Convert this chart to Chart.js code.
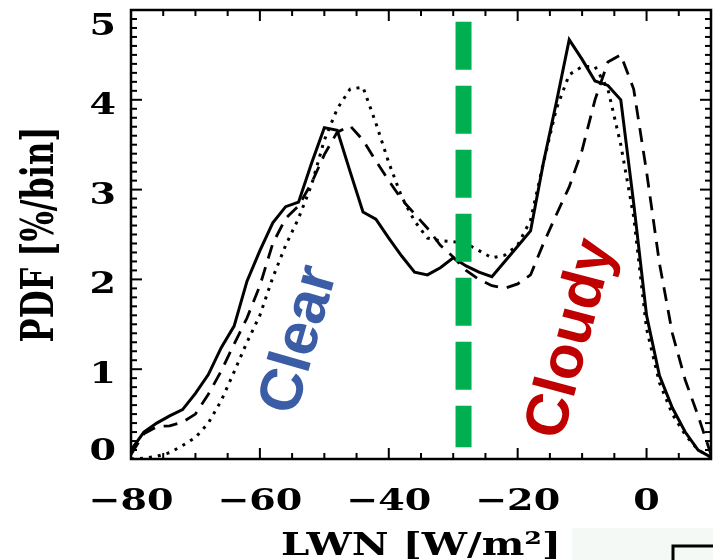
<!DOCTYPE html>
<html>
<head>
<meta charset="utf-8">
<script src="https://cdn.jsdelivr.net/npm/chart.js@4.4.1/dist/chart.umd.min.js"></script>
<style>
    html, body { margin: 0; padding: 0; background: #fff; }
    #wrap { width: 713px; height: 560px; }
</style>
</head>
<body>
<div id="wrap"><canvas id="pdfChart" width="713" height="560"></canvas></div>
<script>
// LWN bins [W/m2] and PDF values [%/bin] for the three curves
const lwnBins = [-80, -78, -76, -74, -72, -70, -68, -66, -64, -62, -60, -58, -56, -54, -52, -50,
    -48, -46, -44, -42, -40, -38, -36, -34, -32, -30, -28, -26, -24, -22, -20, -18, -16, -14,
    -12, -10, -8, -6, -4, -2, 0, 2, 4, 6, 8, 10];
const pdfSolid = [0.10, 0.30, 0.40, 0.48, 0.55, 0.73, 0.94, 1.24, 1.48, 1.98, 2.32, 2.63, 2.81, 2.86, 3.29, 3.69,
    3.66, 3.20, 2.75, 2.67, 2.46, 2.26, 2.08, 2.05, 2.13, 2.24, 2.15, 2.08, 2.03, 2.20, 2.37, 2.54, 3.30, 3.97,
    4.67, 4.45, 4.21, 4.16, 4.00, 2.85, 1.60, 0.93, 0.57, 0.30, 0.10, 0.02];
const pdfDotted = [0.00, 0.01, 0.03, 0.07, 0.15, 0.24, 0.40, 0.65, 0.97, 1.30, 1.60, 2.02, 2.38, 2.68, 3.05, 3.55,
    3.90, 4.12, 4.14, 3.74, 3.30, 2.92, 2.65, 2.46, 2.43, 2.42, 2.40, 2.32, 2.24, 2.27, 2.38, 2.66, 3.30, 3.90,
    4.28, 4.37, 4.37, 4.12, 3.50, 2.70, 1.45, 0.85, 0.50, 0.27, 0.10, 0.02];
const pdfDashed = [0.05, 0.28, 0.36, 0.37, 0.41, 0.50, 0.72, 0.98, 1.28, 1.57, 1.93, 2.40, 2.68, 2.82, 3.07, 3.39,
    3.64, 3.71, 3.55, 3.32, 3.10, 2.89, 2.73, 2.57, 2.38, 2.25, 2.10, 2.00, 1.93, 1.90, 1.95, 2.05, 2.40, 2.72,
    3.03, 3.44, 4.00, 4.42, 4.50, 4.12, 3.20, 2.18, 1.40, 0.88, 0.48, 0.05];

// clear / cloudy split (green dashed line)
const splitLwn = -28.4;
const splitPdf = [4.87, 0.13];

const xTicks = [-80, -60, -40, -20, 0];
const yTicks = [0, 1, 2, 3, 4, 5];
const xTitle = 'LWN [W/m²]';
const yTitle = 'PDF [%/bin]';
const regionLabels = ['Clear', 'Cloudy'];

const toPoints = ys => lwnBins.map((x, i) => ({ x: x, y: ys[i] }));

function stretchedText(ctx, str, x, y, opts) {
    ctx.save();
    ctx.translate(x, y);
    ctx.scale(opts.sx || 1, 1);
    ctx.rotate(opts.angle || 0);
    ctx.font = opts.font;
    ctx.fillStyle = opts.color || '#000';
    ctx.textAlign = opts.align || 'center';
    ctx.textBaseline = opts.baseline || 'alphabetic';
    ctx.fillText(str, 0, 0);
    ctx.restore();
}

function seg(ctx, x1, y1, x2, y2) {
    ctx.beginPath();
    ctx.moveTo(x1, y1);
    ctx.lineTo(x2, y2);
    ctx.stroke();
}

// IDL style box: inward ticks on all four sides, stretched serif labels
const idlAxes = {
    id: 'idlAxes',
    beforeDraw(chart) {
        const ctx = chart.ctx;
        ctx.save();
        ctx.fillStyle = '#fff';
        ctx.fillRect(0, 0, chart.width, chart.height);
        // bits of the neighbouring panel peeking in at bottom right
        ctx.fillStyle = '#f5f9f6';
        ctx.fillRect(572, 528, chart.width - 572, chart.height - 528);
        ctx.strokeStyle = '#000';
        ctx.lineWidth = 3;
        ctx.beginPath();
        ctx.moveTo(673, chart.height);
        ctx.lineTo(673, 546);
        ctx.lineTo(chart.width, 546);
        ctx.stroke();
        ctx.restore();
    },
    afterDatasetsDraw(chart) {
        const { ctx, chartArea: a, scales: { x, y } } = chart;
        ctx.save();
        ctx.strokeStyle = '#000';
        ctx.lineWidth = 2.5;
        ctx.strokeRect(a.left, a.top, a.right - a.left, a.bottom - a.top);

        ctx.lineWidth = 2;
        for (let v = x.min; v <= x.max + 1e-6; v += 5) {
            const px = x.getPixelForValue(v);
            const len = xTicks.includes(v) ? 11 : 6;
            seg(ctx, px, a.bottom, px, a.bottom - len);
            seg(ctx, px, a.top, px, a.top + len);
        }
        for (let i = 0; i <= 50; i++) {
            const py = y.getPixelForValue(i / 10);
            const len = i % 10 === 0 ? 11 : 6;
            seg(ctx, a.left, py, a.left + len, py);
            seg(ctx, a.right, py, a.right - len, py);
        }

        const tickFont = 'bold 30px "DejaVu Serif"';
        xTicks.forEach(v => {
            const label = v < 0 ? '\u2212' + Math.abs(v) : String(v);
            stretchedText(ctx, label, x.getPixelForValue(v), a.bottom + 51, { font: tickFont, sx: 1.27 });
        });
        yTicks.forEach(v => {
            const by = Math.min(Math.max(y.getPixelForValue(v) + 14, 35), 460);
            stretchedText(ctx, String(v), a.left - 15, by, { font: tickFont, sx: 1.27, align: 'right' });
        });

        stretchedText(ctx, xTitle, (a.left + a.right) / 2, 555, { font: 'bold 31px "DejaVu Serif"', sx: 1.3 });
        stretchedText(ctx, yTitle, 53, (a.top + a.bottom) / 2, { font: 'bold 32px "DejaVu Serif"', sx: 1.41, angle: -Math.PI / 2 });

        const sansFont = 'bold 60px "Liberation Sans"';
        stretchedText(ctx, regionLabels[0], 300, 340, { font: sansFont, color: '#3B5DA6', angle: -74 * Math.PI / 180, baseline: 'middle' });
        stretchedText(ctx, regionLabels[1], 572, 339, { font: sansFont, color: '#C00000', angle: -75 * Math.PI / 180, baseline: 'middle' });
        ctx.restore();
    }
};

new Chart(document.getElementById('pdfChart'), {
    type: 'line',
    data: {
        datasets: [
            {
                label: 'split',
                data: splitPdf.map(v => ({ x: splitLwn, y: v })),
                borderColor: '#00B050',
                borderWidth: 16,
                borderDash: [48, 16],
                borderCapStyle: 'butt',
                pointRadius: 0
            },
            {
                label: 'solid',
                data: toPoints(pdfSolid),
                borderColor: '#000',
                borderWidth: 3,
                pointRadius: 0
            },
            {
                label: 'dotted',
                data: toPoints(pdfDotted),
                borderColor: '#000',
                borderWidth: 3,
                borderDash: [3, 6],
                pointRadius: 0
            },
            {
                label: 'dashed',
                data: toPoints(pdfDashed),
                borderColor: '#000',
                borderWidth: 2.8,
                borderDash: [14, 9],
                pointRadius: 0
            }
        ]
    },
    options: {
        responsive: false,
        devicePixelRatio: 1,
        animation: false,
        layout: { padding: { left: 131, top: 10, right: 2, bottom: 101 } },
        elements: { line: { tension: 0 } },
        scales: {
            x: { type: 'linear', display: false, min: -80, max: 10 },
            y: { type: 'linear', display: false, min: 0, max: 5 }
        },
        plugins: {
            legend: { display: false },
            tooltip: { enabled: false },
            title: { display: false }
        }
    },
    plugins: [idlAxes]
});
</script>
</body>
</html>
